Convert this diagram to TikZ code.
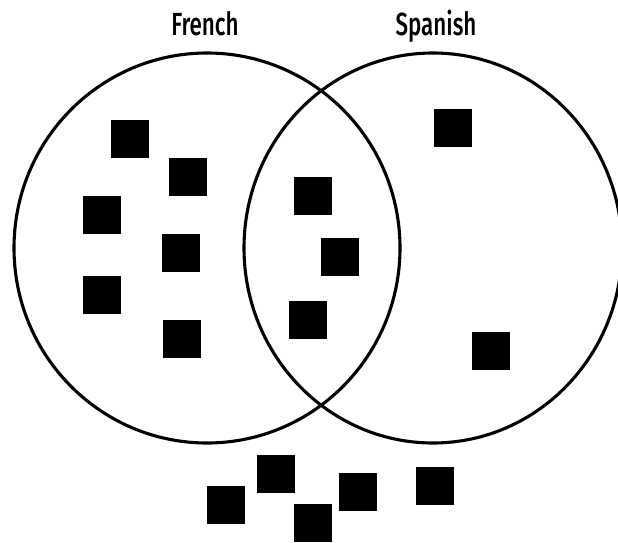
\documentclass[tikz,border=0pt]{standalone}
\usepackage{fontspec}
\setmainfont{Fira Sans}[UprightFont=* Medium,FakeStretch=0.7]
\usetikzlibrary{shapes.geometric}
\tikzset{set/.style={draw=black,ellipse,line width=3.1pt,inner sep=0pt},
  setname/.style={font=\fontsize{32}{36}\selectfont,inner sep=0pt,anchor=base},
  member/.style={fill=black,minimum size=38pt,inner sep=0pt}}

\begin{document}
\begin{tikzpicture}[x=1pt,y=-1pt]
\useasboundingbox (0,0) rectangle (618,543);
\node[set,minimum width=386pt,minimum height=390pt] (french) at (207,248) {};
\node[set,minimum width=378pt,minimum height=390pt] (spanish) at (433,248) {};
\node[setname] (frenchname) at (205,36) {French};
\node[setname] (spanishname) at (436,36) {Spanish};
% only french
\foreach \pos [count=\i] in {(130,139),(188,177),(102,215),(181,253),(102,295),(182,339)}
  \node[member] (fr\i) at \pos {};
% both
\foreach \pos [count=\i] in {(312.5,196),(339.5,257),(307.5,319.5)}
  \node[member] (both\i) at \pos {};
% only spanish
\foreach \pos [count=\i] in {(453,128),(490.5,350.5)}
  \node[member] (sp\i) at \pos {};
% neither
\foreach \pos [count=\i] in {(226,505),(275.5,473.5),(312.5,523),(358,492),(434.5,486)}
  \node[member] (none\i) at \pos {};
\end{tikzpicture}
\end{document}
